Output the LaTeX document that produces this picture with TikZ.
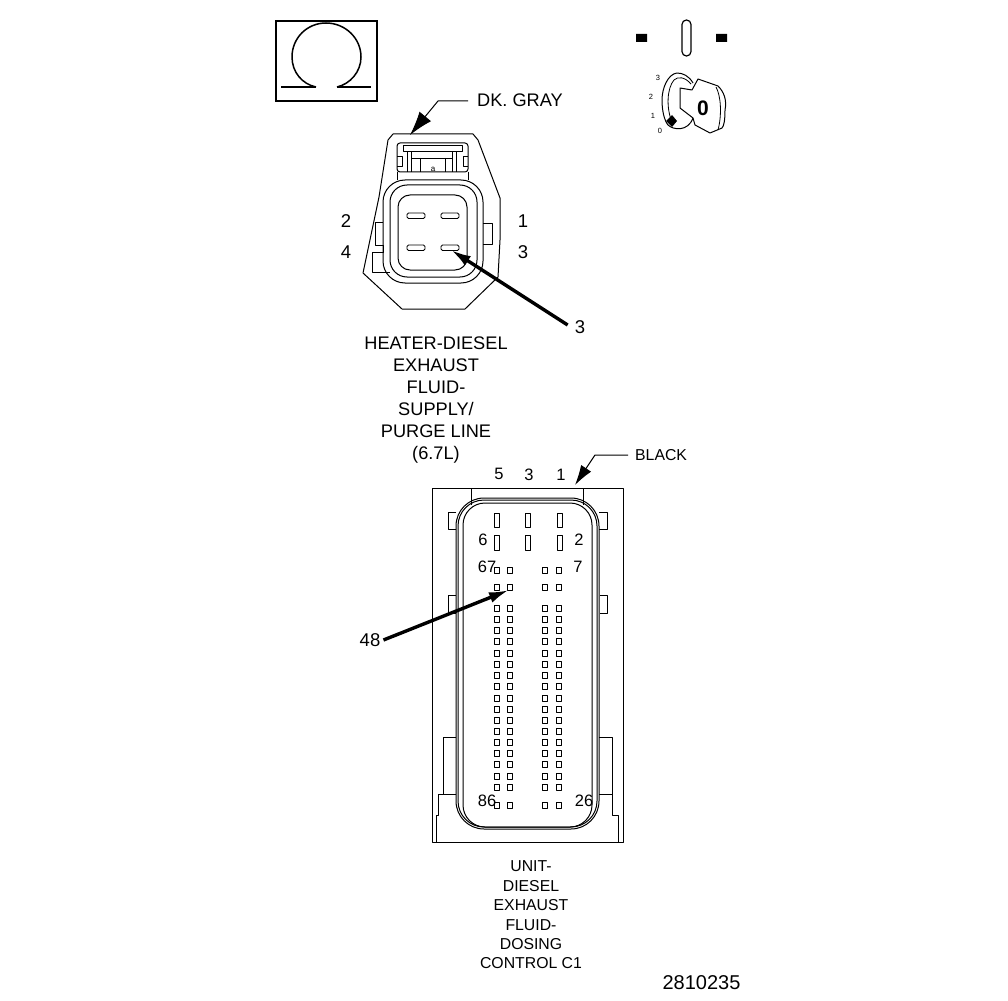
\documentclass[tikz,border=0pt]{standalone}
\usepackage{fontspec}
\setmainfont{Liberation Sans}
\usetikzlibrary{arrows.meta}
\tikzset{
  ln/.style={line width=1pt,black,line join=round},
  thinl/.style={line width=0.8pt,black,line join=round},
  lab/.style={inner sep=0pt,align=center,font=\fontsize{18.2}{22}\selectfont},
  numl/.style={inner sep=0pt,font=\fontsize{18.5}{18}\selectfont},
  pinn/.style={inner sep=0pt,font=\fontsize{16.5}{16}\selectfont},
  smalln/.style={inner sep=0pt,font=\fontsize{7.5}{8}\selectfont},
  bigarrow/.style={line width=3.4pt,-{Latex[length=20pt,width=11pt]}},
  callout/.style={line width=1pt,-{Latex[length=24pt,width=15pt]}},
}
\begin{document}
\begin{tikzpicture}[x=1pt,y=-1pt]
\useasboundingbox (0,0) rectangle (1008,1000);
% Omega box
\draw[line width=1.6pt] (276,21) rectangle (377,101);
\draw[line width=1.5pt] (316,87) .. controls (302,84) and (292,72) .. (292,57) .. controls (292,38) and (307,23) .. (326,23) .. controls (345,23) and (361,38) .. (361,57) .. controls (361,72) and (350,84) .. (337,87);
\draw[line width=2.4pt] (281,87) -- (316,87) (337,87) -- (371,87);
% key icon
\fill (636,34) rectangle (647,42) (716,34) rectangle (727,42);
\draw[line width=1.2pt,rounded corners=4.4pt] (682,20) rectangle (691,56);
\node[smalln] (k3) at (658,78) {3};
\node[smalln] (k2) at (651,97) {2};
\node[smalln] (k1) at (653,116) {1};
\node[smalln] (k0) at (660,131) {0};
\draw[ln] (693,83) .. controls (689,76) and (683,73) .. (677,73) .. controls (668,74) and (662,88) .. (662,100) .. controls (662,110) and (664,120) .. (668,125) .. controls (673,130) and (688,132) .. (693,118);
\draw[thinl] (691,84) .. controls (685,77) and (678,76) .. (674,80) .. controls (667,88) and (666,108) .. (672,122);
\draw[ln] (693,118) -- (680,108) -- (680,88) -- (692,90) -- (698,79) -- (718,86) .. controls (724,92) and (727,100) .. (725,110) .. controls (725,120) and (724,126) .. (722,128) -- (710,133) -- (695,125) -- (693,118);
\draw[thinl] (716,87) .. controls (721,96) and (722,115) .. (718,130);
\node[inner sep=0pt,font=\bfseries\fontsize{21}{21}\selectfont] (k) at (703,108) {0};
\fill (672,115) -- (677,121) -- (672,127) -- (666,121) -- cycle;
% upper connector
\draw[ln] (393,134) -- (473,134) -- (478,140) -- (500,198) -- (500,240) -- (498,277) -- (465,309) -- (402,309) -- (363,273) -- (379,197) -- (388,140) -- cycle;
\draw[ln,rounded corners=3pt] (397,172) -- (397,143) -- (468,143) -- (468,172) -- cycle;
\draw[ln] (403,146) rectangle (462,152);
\draw[ln] (407,152) -- (407,172) (456,152) -- (456,172);
\draw[thinl] (420,158) -- (445,158) (420,158) -- (420,172) (445,158) -- (445,172) (411,152) -- (411,172) (452,152) -- (452,172) (411,158) -- (452,158);
\node[inner sep=0pt,font=\fontsize{8}{8}\selectfont] (gl) at (433,169) {a};
\draw[thinl] (397,156) -- (402,156) -- (402,166) -- (397,166) (468,156) -- (463,156) -- (463,166) -- (468,166);
\draw[ln] (397,172) -- (397,180) (468,172) -- (468,180);
\draw[ln,rounded corners=22pt] (383,180) rectangle (483,283);
\draw[ln,rounded corners=17pt] (390,185) rectangle (477,277);
\draw[ln,rounded corners=12pt] (398,195) rectangle (467,270);
\draw[ln] (383,223) -- (375,223) -- (375,245) -- (383,245) -- (383,252) -- (372,252) -- (372,272) -- (390,272);
\draw[ln] (483,224) -- (492,224) -- (492,244) -- (483,244);
\foreach \xx in {407,441} \foreach \yy in {213,245}
  \draw[thinl,rounded corners=1.5pt] (\xx,\yy) rectangle ++(18,5.5);
\coordinate (pin3) at (451,250);
\node[numl] (n2) at (346,221) {2};
\node[numl] (n1) at (523,221) {1};
\node[numl] (n4) at (346,252) {4};
\node[numl] (n3) at (523,252) {3};
\node[numl] (c3) at (580,327) {3};
\draw[bigarrow] (c3.west) ++(-7,-2) coordinate (c3s) -- (pin3);
\node[lab,anchor=west] (dk) at (477,100) {DK. GRAY};
\coordinate (dkb) at (438,101);
\coordinate (dkt) at (410,135);
\draw[callout] (dk.west) ++(-9,1) -- (dkb) -- (dkt);
\node[lab] (heater) at (436,400) {HEATER-DIESEL\\EXHAUST\\FLUID-\\SUPPLY/\\PURGE LINE\\(6.7L)};
% lower connector
\draw[ln] (432,488) rectangle (623,842);
\draw[ln] (471,488) -- (471,505) (583,488) -- (583,505);
\draw[ln,rounded corners=28pt] (456,498) rectangle (599,829);
\draw[ln,rounded corners=26pt] (458,500) rectangle (597,827);
\draw[ln,rounded corners=22pt] (463,503) rectangle (592,827);
\draw[ln] (456,512) -- (448,512) -- (448,529) -- (456,529);
\draw[ln] (599,512) -- (607,512) -- (607,529) -- (599,529);
\draw[ln] (456,595) -- (448,595) -- (448,613) -- (456,613);
\draw[ln] (600,595) -- (607,595) -- (607,613) -- (600,613);
\draw[ln] (456,737) -- (443,737) -- (443,794) -- (456,794);
\draw[ln] (599,737) -- (612,737) -- (612,794) -- (599,794);
\draw[ln] (456,794) -- (438,794) -- (438,815) -- (436,815) -- (436,842);
\draw[ln] (599,794) -- (612,794) -- (612,815) -- (618,815) -- (618,842);
\foreach \xx in {494,525,557} \foreach \yy in {513,535}
  \draw[thinl] (\xx,\yy) rectangle ++(5,\ifnum\yy=513 14\else 15\fi);
\foreach \yy in {570,587,608,619,630,641,653,664,675,686,698,709,720,731,742,753,764,776,787,805}
  \foreach \xx in {497,510,545,559}
    \draw[thinl] (\xx-2.5,\yy-3) rectangle ++(5,6);
\coordinate (pin48) at (509,590);
\node[numl] (c48) at (370,640) {48};
\draw[bigarrow] (c48.east) ++(3,0) -- (pin48);
\node[pinn] (p5) at (499,474) {5};
\node[pinn] (p3) at (529,475) {3};
\node[pinn] (p1) at (561,475) {1};
\node[pinn] (p6) at (483,540) {6};
\node[pinn] (p2) at (579,540) {2};
\node[pinn] (p67) at (487,567) {67};
\node[pinn] (p7) at (578,567) {7};
\node[pinn] (p86) at (487,801) {86};
\node[pinn] (p26) at (584,801) {26};
\node[inner sep=0pt,anchor=west,font=\fontsize{15.8}{16}\selectfont] (blk) at (635,455) {BLACK};
\coordinate (blb) at (595,455);
\coordinate (blt) at (575,485);
\draw[line width=1pt,-{Latex[length=20pt,width=12pt]}] (blk.west) ++(-7,0) -- (blb) -- (blt);
\node[inner sep=0pt,align=center,font=\fontsize{15.8}{19.4}\selectfont] (unit) at (531,915) {UNIT-\\DIESEL\\EXHAUST\\FLUID-\\DOSING\\CONTROL C1};
\node[inner sep=0pt,font=\fontsize{20}{20}\selectfont] (id) at (701.5,983) {2810235};
\end{tikzpicture}
\end{document}
